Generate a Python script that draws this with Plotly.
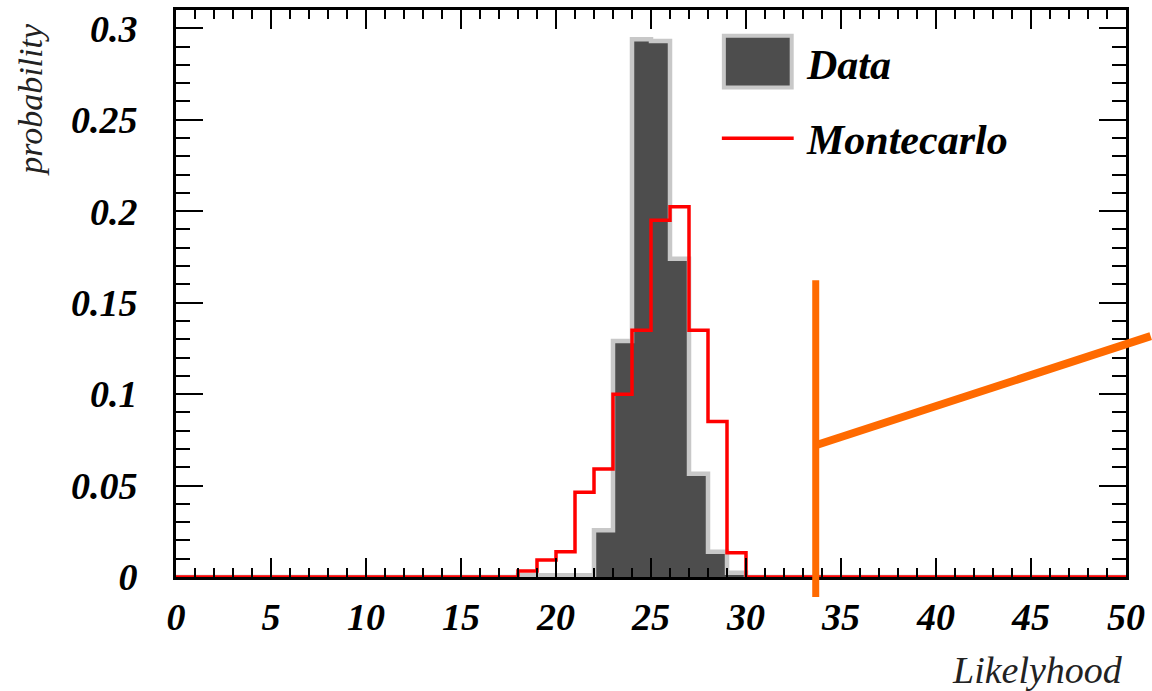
import plotly.graph_objects as go

# ---------------- data (bin width 1, range 0..50) ----------------
bin_edges = list(range(0, 51))
data_bins = {18: 0.001, 19: 0.001, 20: 0.001, 21: 0.001, 22: 0.0256, 23: 0.129,
             24: 0.294, 25: 0.293, 26: 0.174, 27: 0.0564, 28: 0.0138, 29: 0.0023}
mc_bins = {18: 0.0033, 19: 0.0093, 20: 0.0138, 21: 0.0464, 22: 0.0591, 23: 0.0999,
           24: 0.1349, 25: 0.195, 26: 0.2024, 27: 0.1349, 28: 0.085, 29: 0.0132}
data_values = [data_bins.get(k, 0.0) for k in range(50)]
mc_values = [mc_bins.get(k, 0.0) for k in range(50)]
x_ticks = [0, 5, 10, 15, 20, 25, 30, 35, 40, 45, 50]
y_ticks = [0, 0.05, 0.1, 0.15, 0.2, 0.25, 0.3]

# orange annotation: cut line and slanted line (data coordinates)
cut_x = 33.67
cut_y = [-0.011, 0.1623]
arrow_x = [33.67, 51.3]
arrow_y = [0.072, 0.1317]

X_RANGE = [0, 50]
Y_RANGE = [0, 0.31]

W, H = 1152, 691
ML, MR, MT, MB = 176, 24, 7, 114

FONT = "Liberation Serif"

def px(x):
    return (x - X_RANGE[0]) / (X_RANGE[1] - X_RANGE[0])

def py(y):
    return (y - Y_RANGE[0]) / (Y_RANGE[1] - Y_RANGE[0])

def pix_x(p):
    return (p - ML) / (W - ML - MR)

def pix_y(p):
    return (H - MB - p) / (H - MB - MT)

fig = go.Figure()

# Data histogram: filled step
fig.add_trace(go.Scatter(
    x=bin_edges, y=data_values + [data_values[-1]],
    mode="lines", line=dict(shape="hv", color="#c8c8c8", width=4.5),
    fill="tozeroy", fillcolor="#4d4d4d", showlegend=False, hoverinfo="skip"))

# Montecarlo histogram: red step line
fig.add_trace(go.Scatter(
    x=bin_edges, y=mc_values + [mc_values[-1]],
    mode="lines", line=dict(shape="hv", color="#ff0000", width=3.5),
    showlegend=False, hoverinfo="skip"))

tickfont = dict(family=FONT, size=38, color="black", weight="bold", style="italic")

fig.update_xaxes(
    range=X_RANGE, tickvals=x_ticks, ticks="inside", ticklen=19, tickwidth=2,
    tickcolor="black", showline=True, linecolor="black", linewidth=3,
    mirror="allticks", showgrid=False, zeroline=False, tickfont=tickfont,
    ticklabelstandoff=4,
    minor=dict(dtick=1, ticks="inside", ticklen=9, tickwidth=2, tickcolor="black", showgrid=False))
fig.update_yaxes(
    range=Y_RANGE, tickvals=y_ticks, ticks="inside", ticklen=27, tickwidth=2,
    tickcolor="black", showline=True, linecolor="black", linewidth=3,
    mirror="allticks", showgrid=False, zeroline=False, tickfont=tickfont,
    ticklabelstandoff=28,
    minor=dict(dtick=0.01, ticks="inside", ticklen=14, tickwidth=2, tickcolor="black", showgrid=False))

shapes = []
# orange cut line and slanted line
shapes.append(dict(type="line", xref="paper", yref="paper",
                   x0=px(cut_x), x1=px(cut_x), y0=py(cut_y[0]), y1=py(cut_y[1]),
                   line=dict(color="#ff6a00", width=7)))
shapes.append(dict(type="line", xref="paper", yref="paper",
                   x0=px(arrow_x[0]), x1=px(arrow_x[1]), y0=py(arrow_y[0]), y1=py(arrow_y[1]),
                   line=dict(color="#ff6a00", width=8)))
# legend symbols
shapes.append(dict(type="rect", xref="paper", yref="paper",
                   x0=pix_x(725), x1=pix_x(793), y0=pix_y(85), y1=pix_y(33),
                   fillcolor="#4d4d4d", line=dict(color="#c8c8c8", width=4)))
shapes.append(dict(type="line", xref="paper", yref="paper",
                   x0=pix_x(723), x1=pix_x(795), y0=pix_y(136), y1=pix_y(136),
                   line=dict(color="#ff0000", width=3.5)))

annotations = [
    dict(text="Data", xref="paper", yref="paper", x=pix_x(805), y=pix_y(62),
         xanchor="left", yanchor="middle", showarrow=False,
         font=dict(family=FONT, size=42, color="black", weight="bold", style="italic")),
    dict(text="Montecarlo", xref="paper", yref="paper", x=pix_x(805), y=pix_y(138),
         xanchor="left", yanchor="middle", showarrow=False,
         font=dict(family=FONT, size=42, color="black", weight="bold", style="italic")),
    dict(text="probability", xref="paper", yref="paper", x=pix_x(30), y=pix_y(97),
         xanchor="center", yanchor="middle", textangle=-90, showarrow=False,
         font=dict(family=FONT, size=34, color="#222222", style="italic")),
    dict(text="Likelyhood", xref="paper", yref="paper", x=pix_x(1127), y=pix_y(670),
         xanchor="right", yanchor="middle", showarrow=False,
         font=dict(family=FONT, size=38, color="#222222", style="italic")),
]

fig.update_layout(
    width=W, height=H, margin=dict(l=ML, r=MR, t=MT, b=MB),
    paper_bgcolor="white", plot_bgcolor="white",
    shapes=shapes, annotations=annotations, showlegend=False)

fig.write_html("out.html", config={"displayModeBar": False},
               post_script="document.body.style.margin='0';document.body.style.overflow='hidden';")
